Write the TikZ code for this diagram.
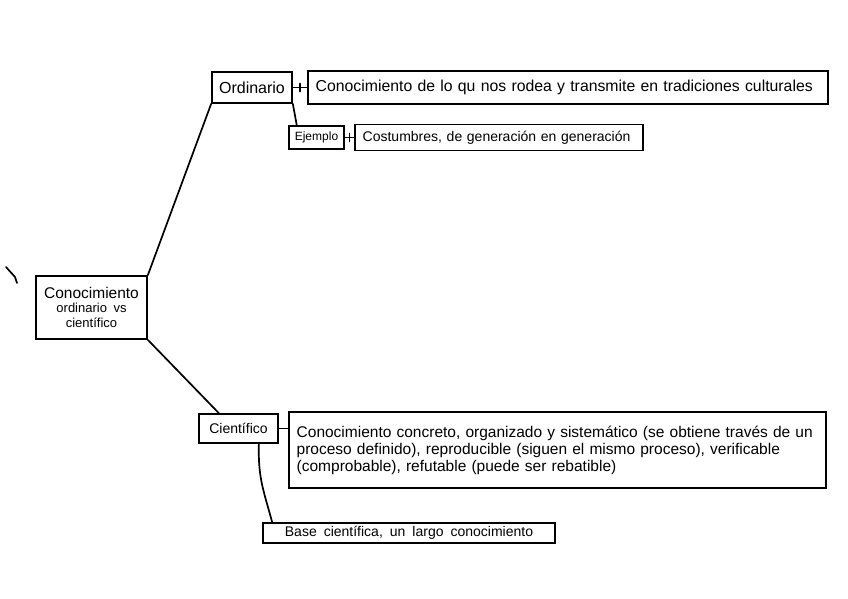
\documentclass[tikz,border=0pt]{standalone}
\usepackage{fontspec}
\setmainfont{Liberation Sans}[WordSpace=1.8]
\usetikzlibrary{positioning, calc}

\begin{document}
\begin{tikzpicture}[
        x=1pt, y=-1pt,
        concept/.style={rectangle, draw=black, line width=1.7pt, inner sep=0pt, align=center},
        info/.style={rectangle, draw=black, line width=1.7pt, inner xsep=8pt, inner ysep=0pt, align=left, anchor=west},
        link/.style={draw=black, line width=1.7pt, line cap=round}
    ]
        \useasboundingbox (0,0) rectangle (848,599);
        % --- NODES ---
        \node[concept, minimum width=111pt, minimum height=63pt] (central) at (91.5,307.5)
            {\fontsize{15.5}{18}\selectfont Conocimiento\\[2pt] \fontsize{13}{15}\selectfont ordinario vs\\[3pt] \fontsize{13}{15}\selectfont científico};
        \node[concept, minimum width=80pt, minimum height=31pt, font=\fontsize{16}{18}\selectfont] (ordinario) at (252,87.5) {Ordinario};
        \node[info, right=14pt of ordinario, text width=504pt, minimum height=33pt, font=\fontsize{15.8}{17}\selectfont] (ordinariodesc)
            {Conocimiento de lo qu nos rodea y transmite en tradiciones culturales};
        \node[concept, minimum width=55pt, minimum height=23pt, font=\fontsize{12}{14}\selectfont] (ejemplo) at (316.5,137.5) {Ejemplo};
        \node[info, right=9pt of ejemplo, text width=272pt, minimum height=26pt, font=\fontsize{14}{15}\selectfont] (ejemplodesc)
            {Costumbres, de generación en generación};
        \node[concept, minimum width=79pt, minimum height=29pt, font=\fontsize{14}{16}\selectfont] (cientifico) at (238.5,428.5) {Científico};
        \node[info, right=9pt of cientifico.north east, anchor=north west, yshift=2pt, text width=521pt, minimum height=76pt, font=\fontsize{15.5}{17}\selectfont] (cientificodesc)
            {Conocimiento concreto, organizado y sistemático (se obtiene través de un\\
             proceso definido), reproducible (siguen el mismo proceso), verificable\\
             (comprobable), refutable (puede ser rebatible)};
        \node[concept, minimum width=292pt, minimum height=20pt, font=\fontsize{14}{15}\selectfont] (base) at (409,533)
            {Base científica, un largo conocimiento};

        % --- CONNECTIONS ---
        \draw[link] (central.north east) -- (ordinario.south west);
        \draw[link] (central.south east) -- (cientifico.142);
        \draw[link] (ordinario.south east) -- (ejemplo.148);
        \draw[link] (ordinario.east) -- coordinate[pos=0.5] (tickA) (ordinario.east -| ordinariodesc.west);
        \draw[link] ([yshift=-4pt]tickA) -- ([yshift=4pt]tickA);
        \draw[link] (ejemplo.east) -- coordinate[pos=0.5] (tickB) (ejemplo.east -| ejemplodesc.west);
        \draw[link] ([yshift=-4pt]tickB) -- ([yshift=4pt]tickB);
        \draw[link] (cientifico.east) -- (cientifico.east -| cientificodesc.west);
        \draw[link] (cientifico.-37) .. controls +(-1,35) and +(-8,-30) .. ([xshift=10pt]base.north west);

        % stray stroke
        \draw[link] (6,267) -- (15,277) -- (17,283);
    \end{tikzpicture}
\end{document}
